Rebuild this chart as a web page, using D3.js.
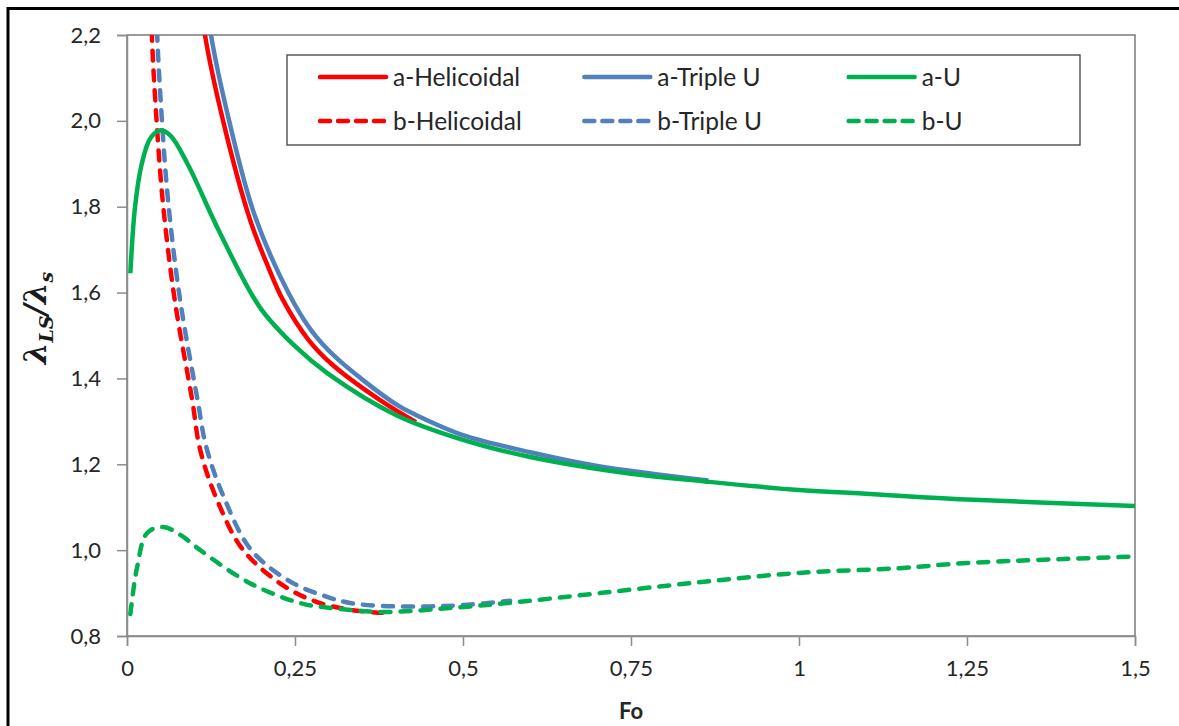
<!DOCTYPE html>
<html>
<head>
<meta charset="utf-8">
<script src="https://cdn.jsdelivr.net/npm/d3@7"></script>
<style>
  html, body { margin: 0; padding: 0; background: #fff; }
  svg { display: block; }
  .tick text { font-family: Lato, "Open Sans", sans-serif; fill: #262626; }
</style>
</head>
<body>
<svg id="chart" width="1179" height="726"></svg>
<script>
// Fourier number ticks and labels (comma decimals)
const xTicks = [0, 0.25, 0.5, 0.75, 1, 1.25, 1.5];
const xTickLabels = ["0", "0,25", "0,5", "0,75", "1", "1,25", "1,5"];
const yTicks = [0.8, 1.0, 1.2, 1.4, 1.6, 1.8, 2.0, 2.2];
const yTickLabels = ["0,8", "1,0", "1,2", "1,4", "1,6", "1,8", "2,0", "2,2"];

// Series: [Fo, λLS/λs]
const aHelicoidal = [[0.108, 2.3], [0.116, 2.2], [0.143, 2.0], [0.183, 1.77], [0.21, 1.66], [0.232, 1.583],
  [0.27, 1.49], [0.307, 1.43], [0.376, 1.35], [0.43, 1.298]];
const aTripleU = [[0.117, 2.3], [0.125, 2.2], [0.152, 2.0], [0.19, 1.78], [0.24, 1.6], [0.275, 1.51], [0.31, 1.45],
  [0.4, 1.34], [0.43, 1.315], [0.5, 1.268], [0.6, 1.228], [0.7, 1.196], [0.865, 1.162]];
const aU = [[0.005, 1.645], [0.012, 1.80], [0.022, 1.90], [0.035, 1.96], [0.05, 1.978], [0.065, 1.965],
  [0.09, 1.90], [0.138, 1.74], [0.198, 1.565], [0.25, 1.475], [0.3, 1.41], [0.4, 1.315], [0.5, 1.257],
  [0.6, 1.217], [0.75, 1.178], [0.86, 1.16], [1.0, 1.14], [1.08, 1.133], [1.25, 1.118], [1.5, 1.103]];
const bHelicoidal = [[0.035, 2.35], [0.037, 2.2], [0.042, 2.05], [0.053, 1.816], [0.071, 1.583], [0.097, 1.35],
  [0.109, 1.233], [0.134, 1.117], [0.173, 1.0], [0.235, 0.915], [0.283, 0.879], [0.332, 0.861], [0.38, 0.854]];
const bTripleU = [[0.043, 2.35], [0.045, 2.2], [0.05, 2.05], [0.061, 1.816], [0.079, 1.583], [0.105, 1.35],
  [0.118, 1.24], [0.145, 1.12], [0.185, 1.0], [0.245, 0.925], [0.3, 0.89], [0.332, 0.877], [0.38, 0.870],
  [0.45, 0.869], [0.5, 0.872], [0.57, 0.882]];
const bU = [[0.005, 0.851], [0.015, 0.96], [0.03, 1.04], [0.054, 1.054], [0.08, 1.035], [0.109, 1.0],
  [0.183, 0.923], [0.257, 0.877], [0.3, 0.866], [0.381, 0.856], [0.48, 0.865], [0.58, 0.879], [0.704, 0.9],
  [0.85, 0.925], [1.0, 0.947], [1.15, 0.958], [1.25, 0.97], [1.5, 0.985]];

const seriesNames = ["a-Helicoidal", "a-Triple U", "a-U", "b-Helicoidal", "b-Triple U", "b-U"];
const seriesData = [aHelicoidal, aTripleU, aU, bHelicoidal, bTripleU, bU];
const seriesColors = ["#ff0000", "#4f81bd", "#00b050", "#ff0000", "#4f81bd", "#00b050"];
const seriesDashed = [false, false, false, true, true, true];

const svg = d3.select("#chart");
const W = 1179, H = 726;
const plot = { left: 127, right: 1135, top: 35, bottom: 636 };

const x = d3.scaleLinear().domain([0, 1.5]).range([plot.left, plot.right]);
const y = d3.scaleLinear().domain([0.8, 2.2]).range([plot.bottom, plot.top]);

// outer frame (left and top edges)
svg.append("path")
  .attr("d", `M8,${H} L8,8.5 L${W},8.5`)
  .attr("fill", "none").attr("stroke", "#000").attr("stroke-width", 3);

// plot area border
svg.append("rect")
  .attr("x", plot.left).attr("y", plot.top)
  .attr("width", plot.right - plot.left).attr("height", plot.bottom - plot.top)
  .attr("fill", "none").attr("stroke", "#595959").attr("stroke-width", 1.2);

// axes
const xAxis = d3.axisBottom(x).tickValues(xTicks).tickSize(10).tickPadding(14)
  .tickFormat((d, i) => xTickLabels[i]);
const gx = svg.append("g").attr("transform", `translate(0,${plot.bottom})`).call(xAxis);
gx.select(".domain").attr("stroke", "#8c8c8c").attr("stroke-width", 1.5);
gx.selectAll(".tick line").attr("stroke", "#8c8c8c").attr("stroke-width", 1.5);
gx.selectAll(".tick text").attr("font-size", 22);

const yAxis = d3.axisLeft(y).tickValues(yTicks).tickSize(10).tickPadding(16)
  .tickFormat((d, i) => yTickLabels[i]);
const gy = svg.append("g").attr("transform", `translate(${plot.left},0)`).call(yAxis);
gy.select(".domain").attr("stroke", "#8c8c8c").attr("stroke-width", 1.5);
gy.selectAll(".tick line").attr("stroke", "#8c8c8c").attr("stroke-width", 1.5);
gy.selectAll(".tick text").attr("font-size", 22);

// clip curves to the plot area
svg.append("clipPath").attr("id", "plotClip")
  .append("rect")
  .attr("x", plot.left).attr("y", plot.top)
  .attr("width", plot.right - plot.left).attr("height", plot.bottom - plot.top);

const line = d3.line()
  .x(d => x(d[0])).y(d => y(d[1]))
  .curve(d3.curveCatmullRom.alpha(0.5));

const curves = svg.append("g").attr("clip-path", "url(#plotClip)");
// dashed curves underneath, solid ones on top, green last
const order = [3, 4, 5, 0, 1, 2];
order.forEach(i => {
  curves.append("path")
    .datum(seriesData[i])
    .attr("d", line)
    .attr("fill", "none")
    .attr("stroke", seriesColors[i])
    .attr("stroke-width", 4.5)
    .attr("stroke-linecap", seriesDashed[i] ? "round" : "butt")
    .attr("stroke-linejoin", "round")
    .attr("stroke-dasharray", seriesDashed[i] ? "10,10" : null);
});

// legend
const legend = { left: 287, top: 55, right: 1080, bottom: 145 };
svg.append("rect")
  .attr("x", legend.left).attr("y", legend.top)
  .attr("width", legend.right - legend.left).attr("height", legend.bottom - legend.top)
  .attr("fill", "#fff").attr("stroke", "#404040").attr("stroke-width", 1.3);

const colW = (legend.right - legend.left) / 3;
const rowY = [77, 121];
seriesNames.forEach((name, i) => {
  const col = i % 3, row = Math.floor(i / 3);
  const x0 = legend.left + col * colW + 31;
  const g = svg.append("g");
  g.append("line")
    .attr("x1", x0 + 2).attr("x2", x0 + 68)
    .attr("y1", rowY[row]).attr("y2", rowY[row])
    .attr("stroke", seriesColors[i]).attr("stroke-width", 4.5)
    .attr("stroke-linecap", "round")
    .attr("stroke-dasharray", seriesDashed[i] ? "10,8" : null);
  g.append("text")
    .attr("x", x0 + 75).attr("y", rowY[row])
    .attr("dy", "0.36em")
    .attr("font-family", "Lato, 'Open Sans', sans-serif")
    .attr("font-size", 24.5)
    .attr("fill", "#262626")
    .text(name);
});

// axis titles
svg.append("text")
  .attr("x", (plot.left + plot.right) / 2).attr("y", 719)
  .attr("text-anchor", "middle")
  .attr("font-family", "Lato, 'Open Sans', sans-serif")
  .attr("font-weight", "bold").attr("font-size", 22)
  .attr("fill", "#262626")
  .text("Fo");

const yt = svg.append("text")
  .attr("transform", "translate(46,318) rotate(-90)")
  .attr("text-anchor", "middle")
  .attr("font-family", "'DejaVu Serif', 'Liberation Serif', serif")
  .attr("font-weight", "bold").attr("font-style", "italic")
  .attr("font-size", 31)
  .attr("fill", "#1a1a1a");
yt.append("tspan").text("λ");
yt.append("tspan").attr("font-size", 19).attr("dy", 7).text("LS");
yt.append("tspan").attr("dy", -7).text("/λ");
yt.append("tspan").attr("font-size", 19).attr("dy", 7).text("s");
</script>
</body>
</html>
